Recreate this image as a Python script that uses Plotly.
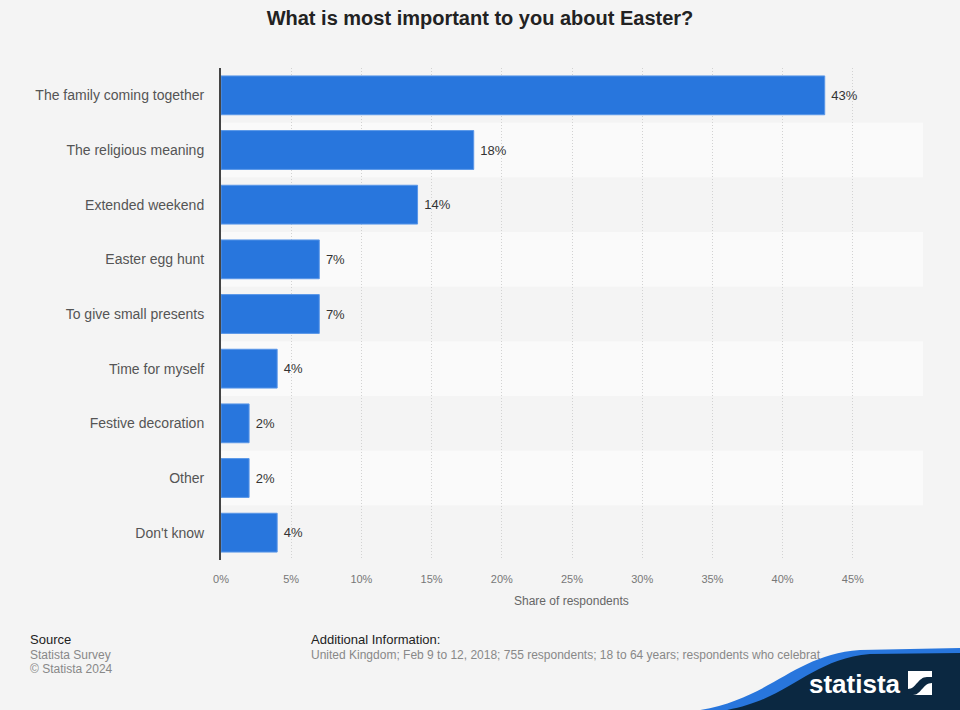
import plotly.graph_objects as go

categories = [
    "The family coming together",
    "The religious meaning",
    "Extended weekend",
    "Easter egg hunt",
    "To give small presents",
    "Time for myself",
    "Festive decoration",
    "Other",
    "Don't know",
]
values = [43, 18, 14, 7, 7, 4, 2, 2, 4]
tick_values = [0, 5, 10, 15, 20, 25, 30, 35, 40, 45, 50]
tick_labels = ["0%", "5%", "10%", "15%", "20%", "25%", "30%", "35%", "40%", "45%", ""]

W, H = 960, 710
L, R, T, B = 221, 923, 68, 560

def px(x):
    return (x - L) / (R - L)

def py(y):
    return (B - y) / (B - T)

FONT = "Liberation Sans, Arial, sans-serif"
NARROW = "Liberation Sans Narrow, Liberation Sans, Arial, sans-serif"

fig = go.Figure()
fig.add_trace(go.Bar(
    x=values,
    y=categories,
    orientation="h",
    marker=dict(color="#2876dd", line=dict(color="#5a97e8", width=1)),
    text=[f" {v}%" for v in values],
    textposition="outside",
    textfont=dict(family=FONT, size=13, color="#333333"),
    cliponaxis=False,
    hoverinfo="skip",
))

shapes = []
for i in range(len(categories)):
    if i % 2 == 1:
        shapes.append(dict(type="rect", xref="paper", yref="y",
                           x0=0, x1=1, y0=i - 0.5, y1=i + 0.5,
                           fillcolor="#fafafa", line=dict(width=0), layer="below"))

def pt(a, b):
    return f"{px(a):.5f},{py(b):.5f}"

def path(segs):
    # segs: list of (cmd, [points]); each command gets exactly its own points
    out = []
    for cmd, pts in segs:
        out.append(cmd + " " + " ".join(pt(a, b) for a, b in pts))
    return " ".join(out) + " Z"

# logo wave (decorative)
blue = path([("M", [(686, 712)]),
             ("C", [(770, 703), (790, 655), (860, 650)]),
             ("L", [(962, 648)]),
             ("L", [(962, 712)])])
navy = path([("M", [(714, 712)]),
             ("C", [(790, 703), (805, 660), (870, 654)]),
             ("L", [(962, 653)]),
             ("L", [(962, 712)])])
shapes.append(dict(type="path", xref="paper", yref="paper", path=blue,
                   fillcolor="#2876dd", line=dict(width=0), layer="above"))
shapes.append(dict(type="path", xref="paper", yref="paper", path=navy,
                   fillcolor="#0b2841", line=dict(width=0), layer="above"))
# logo icon
shapes.append(dict(type="rect", xref="paper", yref="paper",
                   x0=px(908), x1=px(932), y0=py(695), y1=py(671),
                   fillcolor="white", line=dict(width=0), layer="above"))
icon = path([("M", [(908, 689)]),
             ("C", [(916, 689), (918, 677), (927, 677)]),
             ("L", [(932, 677)]),
             ("L", [(932, 683)]),
             ("C", [(923, 683), (921, 695), (913, 695)]),
             ("L", [(908, 695)])])
shapes.append(dict(type="path", xref="paper", yref="paper", path=icon,
                   fillcolor="#0b2841", line=dict(width=0), layer="above"))

annotations = [
    dict(text="Share of respondents", x=px(571), y=py(601), xref="paper", yref="paper",
         showarrow=False, font=dict(family=FONT, size=12, color="#666666"),
         xanchor="center", yanchor="middle"),
    dict(text="Source", x=px(28), y=py(639), xref="paper", yref="paper", showarrow=False,
         font=dict(family=FONT, size=13, color="#222222"), xanchor="left", yanchor="middle"),
    dict(text="Statista Survey", x=px(28), y=py(655), xref="paper", yref="paper", showarrow=False,
         font=dict(family=FONT, size=12, color="#888888"), xanchor="left", yanchor="middle"),
    dict(text="© Statista 2024", x=px(28), y=py(669), xref="paper", yref="paper", showarrow=False,
         font=dict(family=FONT, size=12, color="#888888"), xanchor="left", yanchor="middle"),
    dict(text="Additional Information:", x=px(309), y=py(639), xref="paper", yref="paper",
         showarrow=False, font=dict(family=FONT, size=13, color="#222222"),
         xanchor="left", yanchor="middle"),
    dict(text="United Kingdom; Feb 9 to 12, 2018; 755 respondents; 18 to 64 years; respondents who celebrat",
         x=px(309), y=py(655), xref="paper", yref="paper", showarrow=False,
         font=dict(family=FONT, size=12, color="#888888"), xanchor="left", yanchor="middle"),
    dict(text="<b>statista</b>", x=px(855), y=py(684), xref="paper", yref="paper", showarrow=False,
         font=dict(family=NARROW, size=26, color="white"), xanchor="center", yanchor="middle"),
]

fig.update_layout(
    width=W, height=H,
    margin=dict(l=L, r=W - R, t=T, b=H - B, autoexpand=False),
    paper_bgcolor="#f4f4f4",
    plot_bgcolor="#f4f4f4",
    bargap=0.29,
    showlegend=False,
    title=dict(text="<b>What is most important to you about Easter?</b>",
               x=0.5, xanchor="center", y=1 - 18 / H, yanchor="middle",
               font=dict(family=FONT, size=20, color="#222222")),
    xaxis=dict(range=[0, 50], tickvals=tick_values, ticktext=tick_labels,
               showgrid=True, gridcolor="#d2d2d2", griddash="1px,2px", gridwidth=1,
               zeroline=False, showline=False,
               ticks="outside", ticklen=9, tickcolor="rgba(0,0,0,0)",
               tickfont=dict(family=FONT, size=11, color="#777777"), fixedrange=True),
    yaxis=dict(autorange="reversed", showgrid=False, zeroline=False,
               showline=True, linecolor="#444444", linewidth=2,
               ticks="", ticklabelstandoff=12,
               tickfont=dict(family=FONT, size=14, color="#555555"), fixedrange=True),
    shapes=shapes,
    annotations=annotations,
)

fig.write_html("out.html", config={"displayModeBar": False},
               post_script="document.body.style.margin='0';document.body.style.padding='0';")
